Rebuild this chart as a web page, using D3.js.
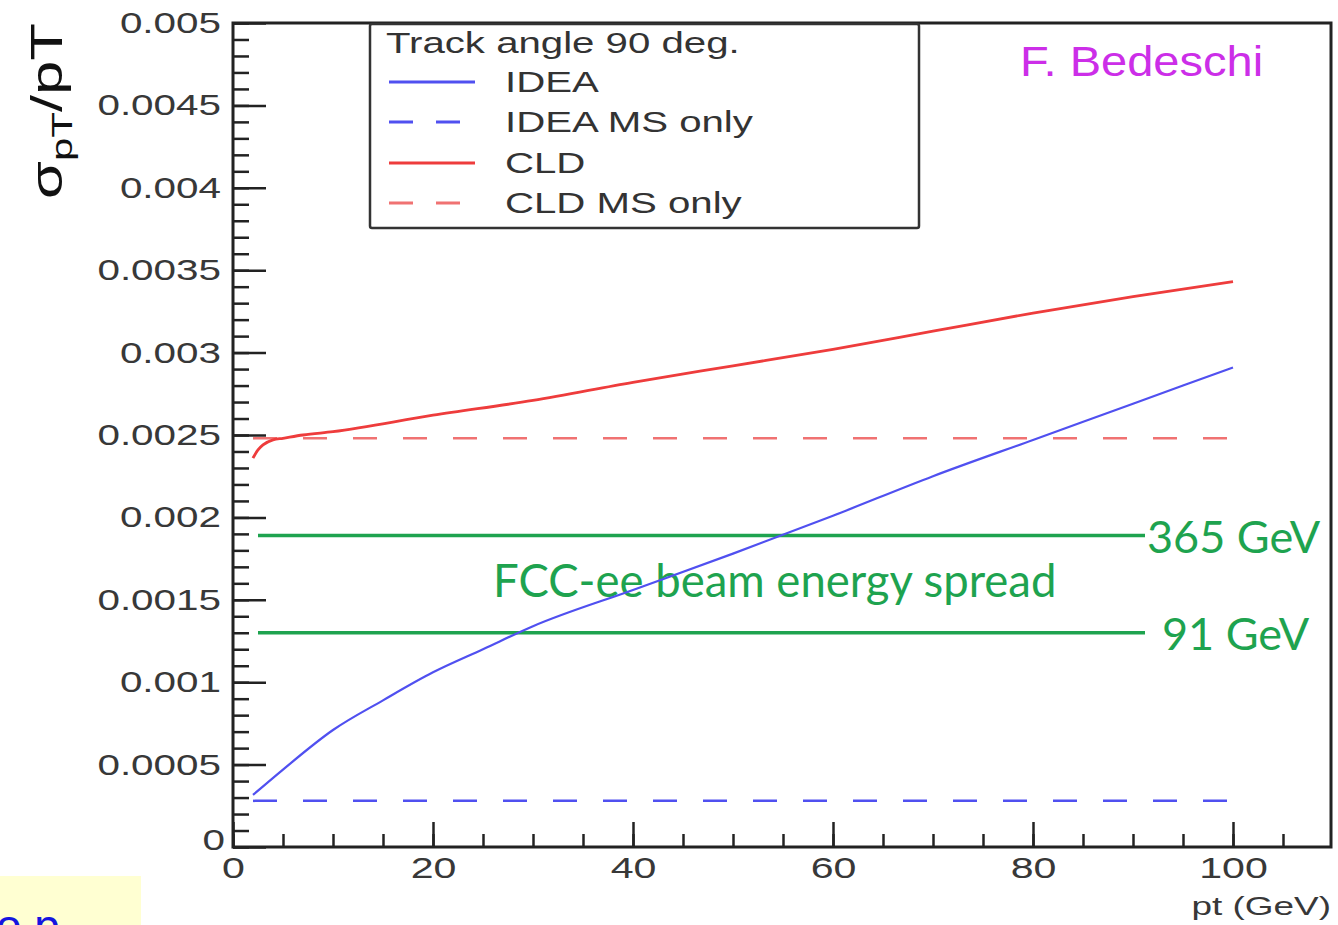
<!DOCTYPE html>
<html><head><meta charset="utf-8">
<script src="https://cdn.jsdelivr.net/npm/d3@7"></script>
<style>html,body{margin:0;padding:0;background:#fff;}svg{display:block;}</style>
</head><body>
<svg id="c" width="1338" height="925"></svg>
<script>
// ---- data ----
const ideaPt   = [2, 5, 10, 15, 20, 25, 30, 40, 50, 60, 70, 80, 90, 100];
const ideaVal  = [0.000316, 0.00047, 0.00071, 0.00089, 0.00106, 0.0012, 0.00134, 0.00156, 0.00178, 0.00201, 0.00225, 0.00247, 0.00269, 0.00291];
const cldPt    = [2, 2.5, 3, 4, 5, 7, 10, 20, 30, 40, 50, 60, 70, 80, 90, 100];
const cldVal   = [0.00236, 0.00241, 0.00244, 0.00247, 0.00248, 0.0025, 0.00252, 0.00262, 0.00271, 0.00282, 0.00292, 0.00302, 0.00313, 0.00324, 0.00334, 0.00343];
const msPt     = [2, 100];
const ideaMS   = [0.00028, 0.00028];
const cldMS    = [0.00248, 0.00248];
const beamPt   = [2.5, 91.2];
const beam365  = 0.00189;
const beam91   = 0.0013;
const yTickVals = [0, 0.0005, 0.001, 0.0015, 0.002, 0.0025, 0.003, 0.0035, 0.004, 0.0045, 0.005];
const yTickLabels = ["0", "0.0005", "0.001", "0.0015", "0.002", "0.0025", "0.003", "0.0035", "0.004", "0.0045", "0.005"];
const xTickVals = [0, 20, 40, 60, 80, 100];
const xTickLabels = ["0", "20", "40", "60", "80", "100"];
const legendLabels = ["IDEA", "IDEA MS only", "CLD", "CLD MS only"];

const svg = d3.select("#c");
const x = d3.scaleLinear().domain([0, 109.8]).range([233, 1331]);
const y = d3.scaleLinear().domain([0, 0.005]).range([847, 23]);
const axisFont = "'Liberation Sans', Arial, sans-serif";
const SX = 1.37; // horizontal stretch of the ROOT text

function stext(px, py, sx, txt) {
  return svg.append("text").attr("transform", `translate(${px},${py}) scale(${sx},1)`).text(txt);
}

// bottom-left slide artifact
svg.append("rect").attr("x", 0).attr("y", 876).attr("width", 141).attr("height", 49).attr("fill", "#ffffd2");
svg.append("text").attr("x", -4).attr("y", 942).attr("font-family", axisFont).attr("font-size", 46)
  .attr("fill", "#1515e0").text("o p");

// minor ticks
const yMinor = d3.range(0, 0.005001, 0.0001);
svg.append("g").attr("transform", "translate(233,0)")
  .call(d3.axisLeft(y).tickValues(yMinor).tickSizeInner(-16).tickSizeOuter(0).tickFormat(""))
  .call(g => { g.select(".domain").remove(); g.selectAll("line").attr("stroke", "#222").attr("stroke-width", 2.5); });
const xMinor = d3.range(0, 106, 5);
svg.append("g").attr("transform", "translate(0,847)")
  .call(d3.axisBottom(x).tickValues(xMinor).tickSizeInner(-13).tickSizeOuter(0).tickFormat(""))
  .call(g => { g.select(".domain").remove(); g.selectAll("line").attr("stroke", "#222").attr("stroke-width", 2.5); });

// major axes
svg.append("g").attr("transform", "translate(233,0)")
  .call(d3.axisLeft(y).tickValues(yTickVals).tickSizeInner(-33).tickSizeOuter(0).tickPadding(12)
    .tickFormat((d, i) => yTickLabels[i]))
  .call(g => {
    g.select(".domain").remove();
    g.selectAll("line").attr("stroke", "#222").attr("stroke-width", 2.5);
    g.selectAll("text").attr("font-family", axisFont).attr("font-size", 29.5).attr("fill", "#383838")
      .attr("transform", `scale(${SX},1)`).attr("x", -12 / SX);
    g.selectAll(".tick").filter(d => d === 0).select("text").attr("dy", "0.1em").attr("x", -8 / SX);
  });
svg.append("g").attr("transform", "translate(0,847)")
  .call(d3.axisBottom(x).tickValues(xTickVals).tickSizeInner(-25).tickSizeOuter(0).tickPadding(10)
    .tickFormat((d, i) => xTickLabels[i]))
  .call(g => {
    g.select(".domain").remove();
    g.selectAll("line").attr("stroke", "#222").attr("stroke-width", 2.5);
    g.selectAll("text").attr("font-family", axisFont).attr("font-size", 30).attr("fill", "#383838")
      .attr("transform", `scale(${SX},1)`);
  });

// frame
svg.append("rect").attr("x", x(0)).attr("y", y(0.005)).attr("width", x(109.8) - x(0)).attr("height", y(0) - y(0.005))
  .attr("fill", "none").attr("stroke", "#222").attr("stroke-width", 3);

// axis titles
svg.append("text").attr("transform", "translate(62,111) rotate(-90) scale(1.4,1)").attr("text-anchor", "middle")
  .attr("font-family", axisFont).attr("font-size", 44).attr("fill", "#111")
  .call(t => {
    t.append("tspan").text("σ");
    t.append("tspan").attr("font-size", 30).attr("dy", 10).text("pT");
    t.append("tspan").attr("dy", -10).text("/pT");
  });
stext(1331, 915, 1.42, "pt (GeV)").attr("text-anchor", "end")
  .attr("font-family", axisFont).attr("font-size", 26).attr("fill", "#383838");

// green beam-energy lines
const green = "#1ea34f";
[beam365, beam91].forEach(v => {
  svg.append("line").attr("x1", x(beamPt[0])).attr("x2", x(beamPt[1])).attr("y1", y(v)).attr("y2", y(v))
    .attr("stroke", green).attr("stroke-width", 3.5);
});
const calib = "Lato, 'Open Sans', sans-serif";
svg.append("text").attr("x", 1147).attr("y", 553).attr("font-family", calib).attr("font-size", 45)
  .attr("fill", green).text("365 GeV");
svg.append("text").attr("x", 1162).attr("y", 650).attr("font-family", calib).attr("font-size", 45)
  .attr("fill", green).text("91 GeV");
svg.append("text").attr("x", 493).attr("y", 597).attr("font-family", calib).attr("font-size", 45.5)
  .attr("fill", green).text("FCC-ee beam energy spread");

// curves
const line = d3.line().x(d => x(d[0])).y(d => y(d[1])).curve(d3.curveMonotoneX);
const blue = "#5050f0", red = "#ee3c3c", lred = "#f07272";
svg.append("path").datum(msPt.map((p, i) => [p, ideaMS[i]])).attr("d", line)
  .attr("fill", "none").attr("stroke", blue).attr("stroke-width", 2.5).attr("stroke-dasharray", "24,26");
svg.append("path").datum(msPt.map((p, i) => [p, cldMS[i]])).attr("d", line)
  .attr("fill", "none").attr("stroke", lred).attr("stroke-width", 2.5).attr("stroke-dasharray", "24,26");
svg.append("path").datum(ideaPt.map((p, i) => [p, ideaVal[i]])).attr("d", line)
  .attr("fill", "none").attr("stroke", blue).attr("stroke-width", 2.2);
svg.append("path").datum(cldPt.map((p, i) => [p, cldVal[i]])).attr("d", line)
  .attr("fill", "none").attr("stroke", red).attr("stroke-width", 2.8);

// legend
svg.append("rect").attr("x", 370).attr("y", 24).attr("width", 549).attr("height", 204)
  .attr("fill", "#fff").attr("stroke", "#333").attr("stroke-width", 2.5).attr("rx", 2);
stext(386, 53, 1.34, "Track angle 90 deg.").attr("font-family", axisFont).attr("font-size", 30).attr("fill", "#333");
const legColors = [blue, blue, red, lred];
const legDash = [null, "24,23", null, "24,23"];
const rowY = [82, 122, 163, 203];
legendLabels.forEach((lab, i) => {
  svg.append("line").attr("x1", 389).attr("x2", 475).attr("y1", rowY[i]).attr("y2", rowY[i])
    .attr("stroke", legColors[i]).attr("stroke-width", 3).attr("stroke-dasharray", legDash[i]);
  stext(505, rowY[i] + 10, 1.34, lab).attr("font-family", axisFont).attr("font-size", 30).attr("fill", "#333");
});

// author
stext(1020, 76, 1.12, "F. Bedeschi").attr("font-family", axisFont).attr("font-size", 42).attr("fill", "#cc2ee8");
</script>
</body></html>
